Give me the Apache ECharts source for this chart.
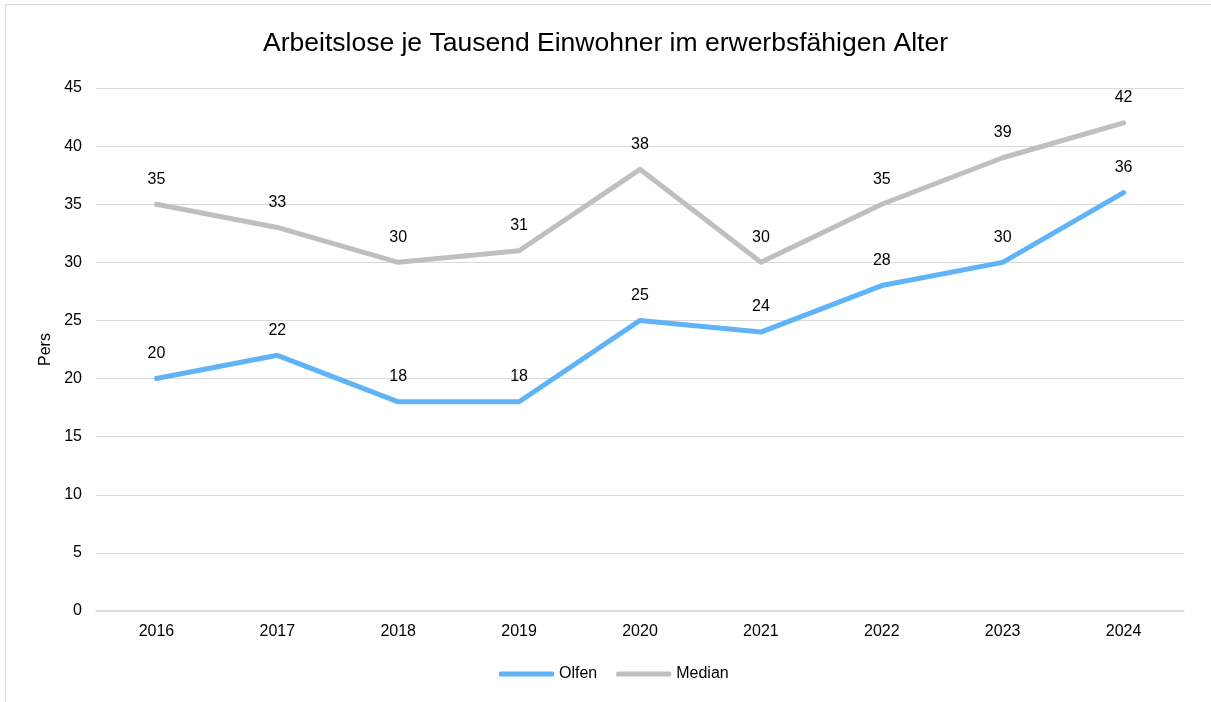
<!DOCTYPE html>
<html>
<head>
<meta charset="utf-8">
<script src="https://cdn.jsdelivr.net/npm/echarts@6/dist/echarts.min.js"></script>
<style>
  html, body { margin: 0; padding: 0; background: #fff; }
  #chart { width: 1211px; height: 702px; }
</style>
</head>
<body>
<div id="chart"></div>
<script>
// Daten
var years = ['2016', '2017', '2018', '2019', '2020', '2021', '2022', '2023', '2024'];
var olfen = [20, 22, 18, 18, 25, 24, 28, 30, 36];
var median = [35, 33, 30, 31, 38, 30, 35, 39, 42];

var chart = echarts.init(document.getElementById('chart'));
var font = 'Liberation Sans, Arial, sans-serif';

function lineSeries(name, data, color) {
  return {
    name: name,
    type: 'line',
    data: data,
    symbol: 'circle',
    symbolSize: 0,
    showSymbol: true,
    lineStyle: { width: 5, color: color, cap: 'round', join: 'round' },
    itemStyle: { color: color },
    label: {
      show: true,
      position: 'top',
      distance: 17,
      color: '#000',
      fontFamily: font,
      fontSize: 16
    }
  };
}

chart.setOption({
  animation: false,
  textStyle: { fontFamily: font },
  graphic: [{
    type: 'rect',
    shape: { x: 5.5, y: 4.5, width: 1300, height: 800 },
    style: { fill: 'none', stroke: '#d9d9d9', lineWidth: 1 },
    silent: true
  }],
  title: {
    text: 'Arbeitslose je Tausend Einwohner im erwerbsfähigen Alter',
    left: 'center',
    top: 25,
    textStyle: { fontFamily: font, fontSize: 26.5, fontWeight: 'normal', color: '#000' }
  },
  grid: { left: 96, right: 27, top: 88, bottom: 91 },
  legend: {
    bottom: 15,
    left: 494,
    icon: 'roundRect',
    itemWidth: 55,
    itemHeight: 5,
    itemGap: 19,
    textStyle: { fontFamily: font, fontSize: 16, color: '#000' },
    data: ['Olfen', 'Median']
  },
  xAxis: {
    type: 'category',
    data: years,
    boundaryGap: true,
    axisLine: { lineStyle: { color: '#d9d9d9', width: 1.5 } },
    axisTick: { show: false },
    axisLabel: { color: '#000', fontSize: 16, margin: 13, fontFamily: font }
  },
  yAxis: {
    type: 'value',
    min: 0,
    max: 45,
    interval: 5,
    name: 'Pers',
    nameLocation: 'middle',
    nameGap: 40,
    nameRotate: 90,
    nameTextStyle: { color: '#000', fontSize: 16, fontFamily: font },
    axisLine: { show: false },
    axisTick: { show: false },
    axisLabel: { color: '#000', fontSize: 16, margin: 14, fontFamily: font },
    splitLine: { lineStyle: { color: '#d9d9d9', width: 1.2 } }
  },
  series: [
    lineSeries('Olfen', olfen, '#5fb3f6'),
    lineSeries('Median', median, '#bfbfbf')
  ]
});
</script>
</body>
</html>
